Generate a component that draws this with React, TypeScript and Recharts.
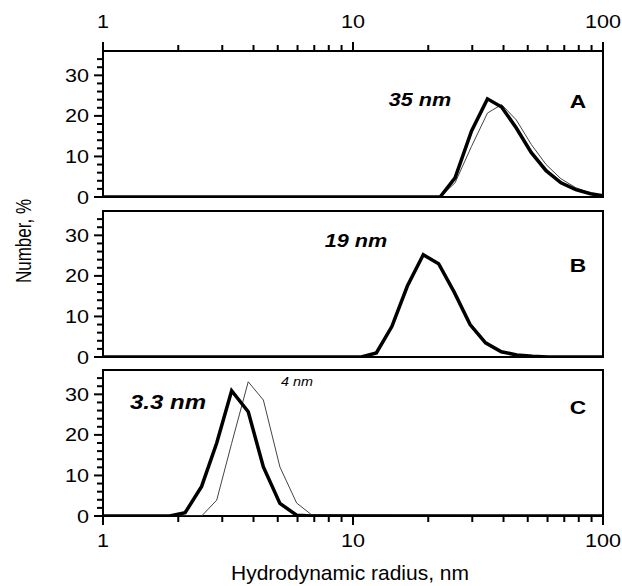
import React from 'react';
import { LineChart, Line, XAxis, YAxis, ReferenceArea } from 'recharts';

// hydrodynamic radius (nm) and number distribution (%)
const radiusA = [1, 22.3, 25.6, 29.8, 34.5, 39.3, 45.0, 51.6, 59.2, 67.9, 77.8, 89.2, 100];
const numberA1 = [0, 0, 4.7, 16.3, 24.2, 22.2, 17, 11, 6.5, 3.5, 1.8, 0.8, 0.3];
const numberA2 = [0, 0, 3.5, 12.5, 20.7, 22.8, 19, 13, 8, 4.5, 2.3, 1, 0.4];

const radiusB = [1, 10.8, 12.4, 14.3, 16.5, 19.1, 22.0, 25.4, 29.4, 33.9, 39.2, 45.2, 52.2, 60.3, 100];
const numberB = [0, 0, 1, 7.5, 17.5, 25.2, 23, 16, 8, 3.5, 1.3, 0.5, 0.2, 0, 0];

const radiusC = [1, 1.85, 2.13, 2.48, 2.85, 3.27, 3.81, 4.38, 5.1, 5.95, 6.83, 100];
const numberC1 = [0, 0, 0.8, 7.3, 18, 30.9, 25.7, 12.1, 3.1, 0.2, 0, 0];
const numberC2 = [0, 0, 0, 0, 3.9, 17.9, 33.1, 28.6, 12.1, 3.2, 0.3, 0];

const xTicks = [1, 2, 3, 4, 5, 6, 7, 8, 9, 10, 20, 30, 40, 50, 60, 70, 80, 90, 100];
const xMajor = [1, 10, 100];
const yTicks = [0, 2, 4, 6, 8, 10, 12, 14, 16, 18, 20, 22, 24, 26, 28, 30, 32, 34];

const W = 622;
const H = 586;
const LEFT = 103;
const RIGHT = 19;
const AX = 30; // room given to every axis
const FONT = '"Liberation Sans", Arial, sans-serif';
const SX = 1.2; // the original figure is a bit stretched sideways

const toRows = (r: number[], a: number[], b?: number[]) =>
  r.map((v, i) => ({ r: v, thick: a[i], thin: b ? b[i] : null }));

const dataA = toRows(radiusA, numberA1, numberA2);
const dataB = toRows(radiusB, numberB);
const dataC = toRows(radiusC, numberC1, numberC2);

const SText = ({ x, y, size, bold, italic, anchor = 'middle', rotate, sx = SX, children }: any) => (
  <text
    transform={`translate(${x},${y}) scale(${sx},1)${rotate ? ' rotate(-90)' : ''}`}
    fontFamily={FONT}
    fontSize={size}
    fontWeight={bold ? 'bold' : 'normal'}
    fontStyle={italic ? 'italic' : 'normal'}
    textAnchor={anchor}
    fill="#000"
  >
    {children}
  </text>
);

const xTick = (side: string, show: boolean) => (props: any) => {
  const { x, y, payload } = props;
  if (!show) return <g />;
  const v = payload.value;
  const major = xMajor.includes(v);
  const len = major ? 9 : 6;
  const dir = side === 'top' ? -1 : 1;
  return (
    <g>
      <line x1={x} x2={x} y1={y} y2={y + dir * len} stroke="#000" strokeWidth={2} />
      {major && (
        <SText x={x} y={side === 'top' ? y - 23 : y + 31} size={18}>
          {v}
        </SText>
      )}
    </g>
  );
};

const yTick = (props: any) => {
  const { x, y, payload } = props;
  const v = payload.value;
  const major = v % 10 === 0;
  return (
    <g>
      <line x1={x - (major ? 9 : 6)} x2={x} y1={y} y2={y} stroke="#000" strokeWidth={2} />
      {major && (
        <SText x={x - 14} y={y + 6.5} size={18} anchor="end">
          {v}
        </SText>
      )}
    </g>
  );
};

const Panel = ({ top, bottom, data, hasThin, topAxis, bottomAxis }: any) => (
  <div style={{ position: 'absolute', left: 0, top: 0 }}>
    <LineChart
      width={W}
      height={H}
      data={data}
      margin={{ top: top - AX, bottom: H - bottom - AX, left: LEFT - AX, right: RIGHT }}
    >
      <XAxis
        xAxisId="b"
        dataKey="r"
        type="number"
        scale="log"
        domain={[1, 100]}
        ticks={xTicks}
        interval={0}
        allowDataOverflow
        height={AX}
        tickSize={0}
        tickMargin={0}
        tickLine={false}
        axisLine={false}
        tick={xTick('bottom', !!bottomAxis)}
      />
      <XAxis
        xAxisId="t"
        orientation="top"
        dataKey="r"
        type="number"
        scale="log"
        domain={[1, 100]}
        ticks={xTicks}
        interval={0}
        allowDataOverflow
        height={AX}
        tickSize={0}
        tickMargin={0}
        tickLine={false}
        axisLine={false}
        tick={xTick('top', !!topAxis)}
      />
      <YAxis
        type="number"
        domain={[0, 36]}
        ticks={yTicks}
        interval={0}
        allowDataOverflow
        width={AX}
        tickSize={0}
        tickMargin={0}
        tickLine={false}
        axisLine={false}
        tick={yTick}
      />
      <ReferenceArea
        xAxisId="b"
        x1={1}
        x2={100}
        y1={0}
        y2={36}
        fill="#fff"
        fillOpacity={0}
        stroke="#000"
        strokeWidth={2}
      />
      {hasThin && (
        <Line
          xAxisId="b"
          dataKey="thin"
          type="linear"
          stroke="#444"
          strokeWidth={1}
          dot={false}
          isAnimationActive={false}
        />
      )}
      <Line
        xAxisId="b"
        dataKey="thick"
        type="linear"
        stroke="#000"
        strokeWidth={3.5}
        dot={false}
        isAnimationActive={false}
      />
    </LineChart>
  </div>
);

export default function App() {
  return (
    <div style={{ position: 'absolute', left: 0, top: 0, width: W, height: H, background: '#fff' }}>
      <Panel top={51} bottom={197} data={dataA} hasThin topAxis />
      <Panel top={211} bottom={357} data={dataB} />
      <Panel top={370} bottom={516} data={dataC} hasThin bottomAxis />
      <svg width={W} height={H} style={{ position: 'absolute', left: 0, top: 0 }}>
        <SText x={420} y={106} size={18} bold italic>35 nm</SText>
        <SText x={578} y={108} size={19} bold>A</SText>
        <SText x={356} y={247} size={18} bold italic>19 nm</SText>
        <SText x={578} y={272} size={19} bold>B</SText>
        <SText x={168} y={409} size={20} bold italic>3.3 nm</SText>
        <SText x={297} y={386} size={12} italic>4 nm</SText>
        <SText x={578} y={414} size={19} bold>C</SText>
        <SText x={31} y={241} size={17} sx={1.3} rotate>Number, %</SText>
        <SText x={350} y={580} size={20} sx={1.05}>Hydrodynamic radius, nm</SText>
      </svg>
    </div>
  );
}
